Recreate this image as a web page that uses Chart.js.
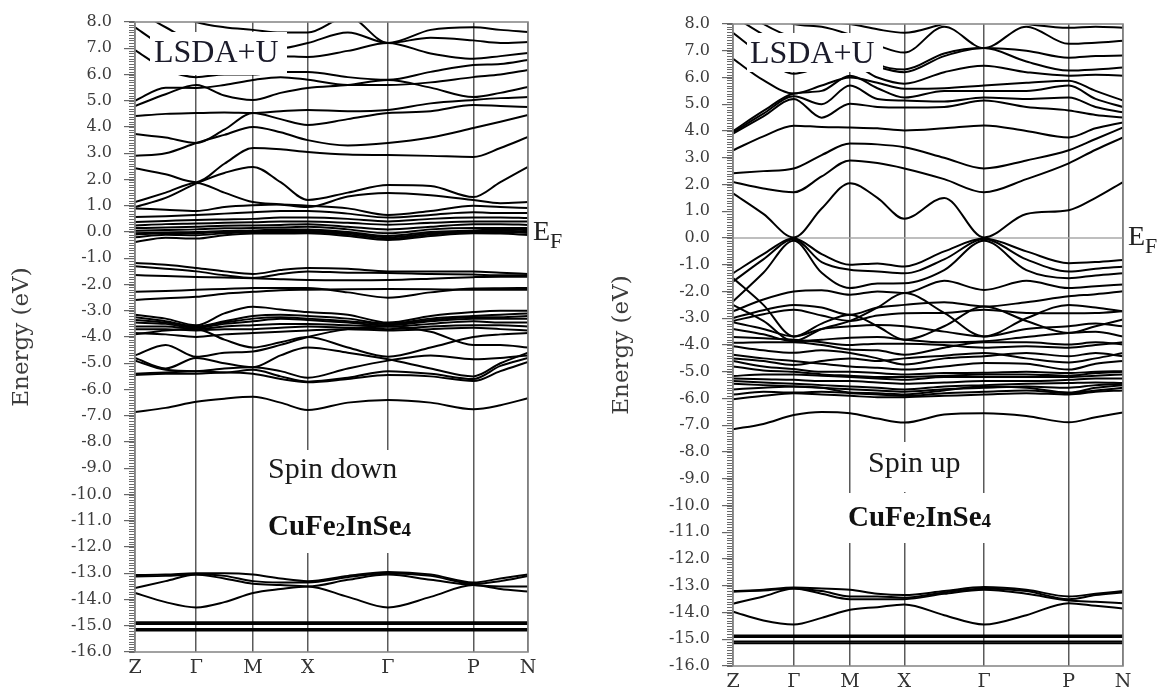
<!DOCTYPE html>
<html>
<head>
<meta charset="utf-8">
<script src="https://cdn.jsdelivr.net/npm/chart.js@4.4.1/dist/chart.umd.min.js"></script>
<style>
  html, body { margin: 0; padding: 0; background: #fff; width: 1157px; height: 689px; overflow: hidden; }
  canvas { position: absolute; top: 0; }
  #down { left: 0; }
  #up { left: 578px; }
</style>
</head>
<body>
<canvas id="down" width="578" height="689"></canvas>
<canvas id="up" width="579" height="689"></canvas>
<script>
// High-symmetry path Z-Γ-M-X-Γ-P-N and the k positions of the sampled energies
const kLabels = ['Z', 'Γ', 'M', 'X', 'Γ', 'P', 'N'];
const kPos = [0, 61, 117.5, 172, 252, 337, 391.5];
const kGrid = [0, 30.5, 61, 89, 117.5, 145, 172, 212, 252, 294.5, 337, 364, 391.5];
const energyTicks = [8, 7, 6, 5, 4, 3, 2, 1, 0, -1, -2, -3, -4, -5, -6, -7, -8, -9, -10, -11, -12, -13, -14, -15, -16];
const fermiLevel = 0;

// ---------- spin down (eV at each kGrid point) ----------
const downDeep = [
  [-14.87, -14.87, -14.87, -14.87, -14.87, -14.87, -14.87, -14.87, -14.87, -14.87, -14.87, -14.87, -14.87],
  [-14.93, -14.93, -14.93, -14.93, -14.93, -14.93, -14.93, -14.93, -14.93, -14.93, -14.93, -14.93, -14.93],
  [-15.12, -15.12, -15.12, -15.12, -15.12, -15.12, -15.12, -15.12, -15.12, -15.12, -15.12, -15.12, -15.12],
  [-15.18, -15.18, -15.18, -15.18, -15.18, -15.18, -15.18, -15.18, -15.18, -15.18, -15.18, -15.18, -15.18]
];
const downSemicore = [
  [-13.07, -13.05, -13.0, -13.0, -13.05, -13.2, -13.3, -13.1, -12.95, -13.05, -13.35, -13.2, -13.05],
  [-13.12, -13.1, -13.05, -13.1, -13.3, -13.35, -13.35, -13.15, -13.0, -13.1, -13.4, -13.3, -13.1],
  [-13.56, -13.3, -13.05, -13.2, -13.4, -13.45, -13.5, -13.25, -13.05, -13.25, -13.45, -13.5, -13.5],
  [-13.75, -14.1, -14.3, -14.1, -13.75, -13.6, -13.5, -13.9, -14.3, -13.9, -13.45, -13.6, -13.7]
];
const downValence = [
  [-6.86, -6.7, -6.47, -6.35, -6.28, -6.5, -6.78, -6.5, -6.4, -6.5, -6.75, -6.6, -6.33],
  [-5.45, -5.4, -5.4, -5.35, -5.4, -5.6, -5.72, -5.6, -5.45, -5.5, -5.68, -5.3, -4.95],
  [-5.4, -5.35, -5.3, -5.35, -5.25, -5.5, -5.7, -5.55, -5.3, -5.4, -5.6, -5.1, -4.8],
  [-4.9, -5.25, -5.3, -5.2, -5.15, -5.3, -5.55, -5.2, -4.9, -4.7, -4.85, -4.8, -4.7],
  [-4.8, -5.2, -4.8, -5.0, -5.15, -4.7, -4.4, -4.6, -4.85, -5.2, -5.5, -5.0, -4.6],
  [-4.7, -4.3, -4.75, -4.6, -4.55, -4.3, -4.0, -3.7, -3.6, -3.8, -4.3, -4.3, -4.4],
  [-3.9, -3.75, -3.7, -4.1, -4.4, -4.2, -4.0, -4.4, -4.75, -4.4, -4.0, -3.9, -3.85],
  [-3.85, -3.9, -4.0, -3.9, -3.85, -3.8, -3.75, -3.7, -3.75, -3.7, -3.65, -3.7, -3.75],
  [-3.7, -3.7, -3.75, -3.7, -3.7, -3.65, -3.6, -3.65, -3.7, -3.6, -3.55, -3.55, -3.6],
  [-3.6, -3.6, -3.7, -3.6, -3.55, -3.5, -3.5, -3.55, -3.6, -3.5, -3.4, -3.45, -3.45],
  [-3.45, -3.5, -3.65, -3.5, -3.4, -3.3, -3.35, -3.45, -3.55, -3.4, -3.3, -3.3, -3.3],
  [-3.35, -3.45, -3.6, -3.45, -3.3, -3.25, -3.3, -3.4, -3.5, -3.35, -3.25, -3.25, -3.2],
  [-3.25, -3.4, -3.6, -3.4, -3.2, -3.15, -3.2, -3.3, -3.5, -3.3, -3.2, -3.15, -3.1],
  [-3.15, -3.3, -3.55, -3.1, -2.85, -2.95, -3.05, -3.15, -3.45, -3.2, -3.05, -3.0, -3.0],
  [-2.59, -2.52, -2.47, -2.35, -2.28, -2.22, -2.2, -2.18, -2.17, -2.18, -2.2, -2.2, -2.2],
  [-2.28, -2.25, -2.2, -2.17, -2.13, -2.13, -2.13, -2.3, -2.5, -2.3, -2.15, -2.14, -2.13],
  [-1.64, -1.68, -1.71, -1.73, -1.76, -1.8, -1.83, -1.84, -1.83, -1.78, -1.72, -1.7, -1.7],
  [-1.3, -1.4, -1.5, -1.65, -1.75, -1.6, -1.5, -1.55, -1.56, -1.6, -1.62, -1.65, -1.65],
  [-1.18, -1.25, -1.37, -1.5, -1.6, -1.45, -1.37, -1.4, -1.5, -1.5, -1.5, -1.55, -1.6]
];
const downFermi = [
  [-0.38, -0.22, -0.25, -0.12, -0.06, -0.06, -0.05, -0.15, -0.3, -0.15, -0.05, -0.06, -0.11],
  [-0.2, -0.1, -0.12, -0.05, 0.0, 0.0, 0.0, -0.1, -0.25, -0.1, 0.0, 0.0, -0.04],
  [-0.1, -0.05, -0.05, 0.0, 0.02, 0.05, 0.05, -0.05, -0.2, -0.05, 0.02, 0.05, 0.02],
  [-0.05, -0.02, 0.0, 0.04, 0.06, 0.1, 0.1, 0.0, -0.15, 0.0, 0.06, 0.1, 0.08],
  [0.05, 0.08, 0.1, 0.14, 0.15, 0.17, 0.2, 0.1, -0.05, 0.1, 0.15, 0.15, 0.15],
  [0.15, 0.17, 0.2, 0.24, 0.25, 0.27, 0.3, 0.2, 0.1, 0.2, 0.3, 0.3, 0.27],
  [0.25, 0.3, 0.32, 0.35, 0.37, 0.4, 0.4, 0.35, 0.28, 0.35, 0.4, 0.4, 0.4],
  [0.38, 0.42, 0.46, 0.48, 0.5, 0.55, 0.55, 0.5, 0.4, 0.5, 0.55, 0.55, 0.53],
  [0.57, 0.6, 0.65, 0.7, 0.75, 0.8, 0.8, 0.7, 0.55, 0.65, 0.75, 0.72, 0.72],
  [0.9, 0.85, 0.8, 0.95, 1.02, 1.05, 1.0, 0.9, 0.65, 0.8, 1.0, 0.95, 0.91]
];
const downConduction = [
  [0.95, 1.3, 1.85, 2.25, 2.48, 1.9, 1.22, 1.5, 1.79, 1.75, 1.33, 1.9, 2.48],
  [1.14, 1.5, 1.87, 1.5, 1.14, 1.05, 0.95, 1.35, 1.49, 1.4, 1.22, 1.1, 1.14],
  [2.43, 2.2, 1.9, 2.6, 3.2, 3.15, 3.05, 2.95, 2.93, 2.9, 2.86, 3.2, 3.62],
  [2.9, 3.0, 3.39, 3.7, 4.0, 3.8, 3.5, 3.3, 3.39, 3.6, 3.96, 4.2, 4.46],
  [3.73, 3.6, 3.39, 3.9, 4.53, 4.3, 4.08, 4.3, 4.53, 4.6, 4.84, 4.8, 4.76],
  [4.42, 4.5, 4.53, 4.55, 4.53, 4.6, 4.65, 4.6, 4.65, 4.9, 5.03, 5.1, 5.14],
  [4.8, 5.25, 5.6, 5.2, 5.03, 5.3, 5.49, 5.6, 5.79, 5.5, 5.14, 5.3, 5.52],
  [5.0, 5.5, 5.49, 5.6, 5.79, 5.9, 5.8, 5.6, 5.6, 5.7, 5.9, 6.0, 6.17],
  [6.93, 6.2, 5.9, 6.0, 6.0, 6.1, 6.1, 5.9, 5.8, 6.1, 6.36, 6.4, 6.55],
  [7.8, 7.0, 6.3, 6.5, 6.6, 6.7, 6.67, 6.9, 7.2, 6.8, 6.6, 6.7, 6.82],
  [8.5, 7.8, 7.3, 7.4, 7.2, 7.0, 7.2, 7.6, 7.2, 7.4, 7.3, 7.2, 7.24],
  [9.0, 8.5, 8.0, 7.8, 7.7, 7.6, 7.6, 8.2, 7.2, 7.7, 7.8, 7.7, 7.62]
];

// ---------- spin up (eV at each kGrid point) ----------
const upDeep = [
  [-14.86, -14.86, -14.86, -14.86, -14.86, -14.86, -14.86, -14.86, -14.86, -14.86, -14.86, -14.86, -14.86],
  [-14.92, -14.92, -14.92, -14.92, -14.92, -14.92, -14.92, -14.92, -14.92, -14.92, -14.92, -14.92, -14.92],
  [-15.08, -15.08, -15.08, -15.08, -15.08, -15.08, -15.08, -15.08, -15.08, -15.08, -15.08, -15.08, -15.08],
  [-15.15, -15.15, -15.15, -15.15, -15.15, -15.15, -15.15, -15.15, -15.15, -15.15, -15.15, -15.15, -15.15]
];
const upSemicore = [
  [-13.2, -13.15, -13.07, -13.1, -13.15, -13.3, -13.35, -13.2, -13.05, -13.15, -13.4, -13.3, -13.2],
  [-13.22, -13.18, -13.1, -13.2, -13.4, -13.4, -13.45, -13.25, -13.1, -13.2, -13.5, -13.35, -13.25],
  [-13.67, -13.4, -13.1, -13.3, -13.5, -13.5, -13.5, -13.3, -13.15, -13.3, -13.55, -13.6, -13.65],
  [-13.97, -14.3, -14.45, -14.2, -13.9, -13.8, -13.7, -14.1, -14.45, -14.1, -13.65, -13.75, -13.85]
];
const upValence = [
  [-7.15, -6.95, -6.62, -6.5, -6.55, -6.75, -6.9, -6.6, -6.55, -6.65, -6.89, -6.7, -6.52],
  [-6.03, -5.9, -5.8, -5.85, -5.9, -5.95, -5.95, -5.9, -5.85, -5.8, -5.85, -5.75, -5.7],
  [-5.85, -5.75, -5.78, -5.75, -5.8, -5.85, -5.9, -5.8, -5.75, -5.7, -5.8, -5.7, -5.6],
  [-5.66, -5.6, -5.55, -5.6, -5.78, -5.8, -5.85, -5.7, -5.55, -5.6, -5.78, -5.6, -5.5],
  [-5.45, -5.5, -5.55, -5.6, -5.65, -5.7, -5.75, -5.65, -5.6, -5.55, -5.6, -5.5, -5.45],
  [-5.35, -5.4, -5.45, -5.5, -5.55, -5.6, -5.66, -5.55, -5.5, -5.45, -5.42, -5.4, -5.42],
  [-5.25, -5.28, -5.3, -5.35, -5.35, -5.4, -5.45, -5.4, -5.35, -5.35, -5.3, -5.25, -5.25],
  [-5.16, -5.1, -5.1, -5.15, -5.2, -5.25, -5.3, -5.2, -5.2, -5.2, -5.2, -5.15, -5.1],
  [-4.8, -4.95, -5.0, -5.1, -5.15, -5.2, -5.2, -5.15, -5.1, -5.1, -5.15, -5.05, -5.0],
  [-4.6, -4.8, -4.9, -5.0, -5.0, -5.05, -5.1, -5.05, -5.04, -5.0, -5.05, -5.0, -4.98],
  [-4.5, -4.6, -4.75, -4.6, -4.5, -4.6, -4.5, -4.4, -4.3, -4.5, -4.65, -4.5, -4.3],
  [-4.36, -4.5, -4.6, -4.7, -4.8, -4.85, -4.92, -4.8, -4.67, -4.7, -4.92, -4.7, -4.6],
  [-4.05, -4.2, -4.29, -4.2, -4.3, -4.5, -4.73, -4.5, -4.42, -4.3, -4.42, -4.3, -4.42],
  [-3.92, -3.9, -3.9, -4.0, -4.17, -4.2, -4.36, -4.1, -3.9, -3.9, -3.98, -3.9, -3.98],
  [-3.7, -3.75, -3.8, -3.9, -4.0, -3.95, -3.95, -4.0, -4.1, -4.05, -4.1, -4.0, -3.9],
  [-3.4, -3.6, -3.86, -3.8, -3.73, -3.7, -3.8, -3.9, -3.86, -3.7, -3.55, -3.5, -3.68],
  [-3.15, -3.4, -3.68, -3.4, -3.3, -3.25, -3.3, -3.5, -3.68, -3.4, -3.3, -3.2, -3.3],
  [-2.5, -3.1, -3.86, -3.4, -3.1, -2.6, -2.06, -2.8, -3.68, -3.0, -2.5, -2.6, -2.74],
  [-1.5, -2.5, -3.68, -3.2, -2.87, -3.3, -3.8, -3.3, -2.56, -3.1, -3.55, -3.3, -3.05],
  [-3.1, -2.85, -2.68, -2.9, -3.1, -2.9, -2.81, -2.8, -2.68, -2.8, -2.81, -2.8, -2.74],
  [-2.99, -2.7, -2.5, -2.6, -2.87, -2.6, -2.5, -2.4, -2.56, -2.4, -2.18, -2.1, -1.99],
  [-2.74, -2.3, -2.0, -1.95, -2.12, -2.0, -2.06, -1.6, -1.94, -1.6, -1.87, -1.8, -1.74],
  [-2.37, -1.3, -0.1, -1.3, -1.87, -1.7, -1.69, -1.2, -0.1, -1.2, -1.5, -1.4, -1.32],
  [-1.63, -0.8, -0.05, -0.9, -1.19, -1.25, -1.32, -0.8, -0.05, -0.8, -1.25, -1.15, -1.07],
  [-1.32, -0.6, -0.02, -0.6, -1.0, -0.95, -1.07, -0.5, -0.02, -0.5, -0.94, -0.9, -0.82]
];
const upConduction = [
  [1.67, 0.9, 0.02, 1.1, 2.05, 1.5, 0.72, 1.5, 0.02, 0.9, 1.04, 1.5, 2.09],
  [2.09, 1.85, 1.71, 2.3, 2.9, 2.8, 2.6, 2.2, 1.71, 2.2, 2.79, 3.3, 3.76],
  [2.42, 2.5, 2.6, 3.1, 3.53, 3.5, 3.39, 3.0, 2.6, 2.9, 3.28, 3.7, 4.13],
  [3.28, 3.8, 4.2, 4.15, 4.13, 4.1, 4.02, 4.1, 4.21, 4.0, 3.76, 4.1, 4.32],
  [3.9, 4.55, 5.2, 4.5, 5.02, 4.9, 4.88, 4.9, 5.14, 4.9, 4.77, 4.6, 4.5],
  [3.95, 4.65, 5.3, 5.0, 5.7, 5.2, 5.14, 5.1, 5.25, 5.2, 5.25, 4.9, 4.7],
  [4.0, 4.75, 5.4, 5.5, 6.07, 5.6, 5.25, 5.5, 5.5, 5.5, 5.7, 5.2, 4.9],
  [6.7, 5.9, 5.4, 5.7, 6.0, 5.8, 5.58, 5.6, 5.7, 5.8, 5.88, 5.5, 5.14],
  [7.67, 6.8, 6.14, 6.4, 6.5, 6.0, 5.77, 6.2, 6.44, 6.2, 6.07, 6.1, 6.07],
  [8.3, 7.6, 7.0, 6.8, 6.8, 6.4, 6.2, 6.8, 7.1, 6.6, 6.26, 6.3, 6.37],
  [8.8, 8.0, 7.5, 7.4, 7.3, 6.5, 6.3, 6.9, 7.1, 7.0, 6.74, 6.8, 6.82],
  [9.0, 8.6, 8.0, 7.9, 7.6, 7.2, 6.93, 7.9, 7.1, 7.9, 7.26, 7.3, 7.37],
  [9.0, 9.0, 8.3, 8.1, 8.0, 7.8, 7.67, 8.0, 8.2, 8.0, 7.86, 7.9, 7.86]
];

// ---------- drawing ----------
const serif = '"Liberation Serif", "Times New Roman", serif';
const plotFont = '"DejaVu Serif", serif';

function bandDatasets(groups) {
  const out = [];
  groups.forEach(group => group.forEach(band => {
    out.push({
      data: band.map((e, i) => ({ x: kGrid[i], y: e })),
      borderColor: '#000',
      borderWidth: 2,
      pointRadius: 0,
      cubicInterpolationMode: 'monotone',
      fill: false,
      order: 0
    });
  }));
  out.push({
    data: [{ x: kPos[0], y: fermiLevel }, { x: kPos[kPos.length - 1], y: fermiLevel }],
    borderColor: '#a8a8a8',
    borderWidth: 1.3,
    pointRadius: 0,
    fill: false,
    order: 5
  });
  return out;
}

// Draws the outlined frame, the minor tick comb, the text boxes and E_F label
const panelDecor = {
  id: 'panelDecor',
  afterDraw(chart, args, opts) {
    const { ctx, chartArea: a } = chart;
    const y = chart.scales.y;
    ctx.save();
    // minor ticks every 0.1 eV
    ctx.strokeStyle = '#6a6a6a';
    ctx.lineWidth = 1;
    for (let i = 0; i <= 240; i++) {
      const py = Math.round(y.getPixelForValue(-16 + i / 10)) + 0.5;
      ctx.beginPath();
      ctx.moveTo(a.left - 6, py);
      ctx.lineTo(a.left, py);
      ctx.stroke();
    }
    // white label boxes
    ctx.fillStyle = '#fff';
    opts.boxes.forEach(b => ctx.fillRect(b.x, b.y, b.w, b.h));
    // frame
    ctx.strokeStyle = '#8a8a8a';
    ctx.lineWidth = 1.6;
    ctx.strokeRect(a.left, a.top, a.right - a.left, a.bottom - a.top);
    // texts (runs of segments, some smaller/lower)
    ctx.textBaseline = 'alphabetic';
    ctx.textAlign = 'left';
    opts.texts.forEach(t => {
      let x = t.x;
      t.runs.forEach(r => {
        ctx.font = r.font;
        ctx.fillStyle = r.color || '#111';
        ctx.fillText(r.text, x, t.y + (r.dy || 0));
        x += ctx.measureText(r.text).width;
      });
    });
    ctx.restore();
  }
};

function makePanel(id, groups, geo, texts, boxes) {
  return new Chart(document.getElementById(id), {
    type: 'line',
    data: { datasets: bandDatasets(groups) },
    plugins: [panelDecor],
    options: {
      responsive: false,
      animation: false,
      events: [],
      layout: { padding: { top: geo.top, right: geo.right, bottom: 0, left: 0 } },
      plugins: {
        legend: { display: false },
        tooltip: { enabled: false },
        panelDecor: { texts, boxes }
      },
      scales: {
        x: {
          type: 'linear',
          min: kPos[0],
          max: kPos[kPos.length - 1],
          afterBuildTicks: s => { s.ticks = kPos.map(v => ({ value: v })); },
          afterFit: s => { s.height = geo.xHeight; s.paddingLeft = 0; s.paddingRight = 0; },
          ticks: {
            autoSkip: false,
            maxRotation: 0,
            padding: geo.xPad,
            color: '#333',
            font: { family: plotFont, size: 19 },
            callback: (v, i) => kLabels[i]
          },
          grid: { color: '#5a5a5a', lineWidth: 1.5, drawTicks: false },
          border: { display: false }
        },
        y: {
          type: 'linear',
          min: -16,
          max: 8,
          afterBuildTicks: s => { s.ticks = energyTicks.map(v => ({ value: v })); },
          afterFit: s => { s.width = geo.yWidth; s.paddingTop = 0; s.paddingBottom = 0; },
          ticks: {
            padding: 12,
            color: '#3c3c3c',
            font: { family: plotFont, size: 16 },
            callback: v => Number(v).toFixed(1)
          },
          grid: { drawOnChartArea: false, drawTicks: true, tickLength: 11, color: '#666', lineWidth: 1.2 },
          border: { display: false },
          title: {
            display: true,
            text: 'Energy (eV)',
            color: '#3c3c3c',
            font: { family: plotFont, size: 23 },
            padding: { top: geo.titlePad, bottom: 0 }
          }
        }
      }
    }
  });
}

const formula = (x, y) => ({
  x, y, runs: [
    { text: 'CuFe', font: 'bold 29px ' + serif },
    { text: '2', font: 'bold 19px ' + serif, dy: 1 },
    { text: 'InSe', font: 'bold 29px ' + serif },
    { text: '4', font: 'bold 19px ' + serif, dy: 1 }
  ]
});
const fermiLabel = (x, y) => ({
  x, y, runs: [
    { text: 'E', font: '28px ' + serif, color: '#222' },
    { text: 'F', font: '22px ' + serif, color: '#222', dy: 8 }
  ]
});

makePanel('down',
  [downDeep, downSemicore, downValence, downFermi, downConduction],
  { top: 22, right: 50, xHeight: 37, xPad: 5, yWidth: 135, titlePad: 8 },
  [
    { x: 154, y: 62, runs: [{ text: 'LSDA+U', font: '32px ' + serif, color: '#1b1b2a' }] },
    { x: 268, y: 478, runs: [{ text: 'Spin down', font: '30px ' + serif, color: '#1b1b1b' }] },
    formula(268, 535),
    fermiLabel(533, 240)
  ],
  [
    { x: 150, y: 32, w: 137, h: 43 },
    { x: 262, y: 450, w: 166, h: 103 }
  ]
);

makePanel('up',
  [upDeep, upSemicore, upValence, upConduction],
  { top: 24, right: 34, xHeight: 23, xPad: 5, yWidth: 155, titlePad: 30 },
  [
    { x: 172, y: 63, runs: [{ text: 'LSDA+U', font: '32px ' + serif, color: '#1b1b2a' }] },
    { x: 290, y: 472, runs: [{ text: 'Spin up', font: '30px ' + serif, color: '#1b1b1b' }] },
    formula(270, 526),
    fermiLabel(550, 245)
  ],
  [
    { x: 169, y: 33, w: 136, h: 39 },
    { x: 282, y: 442, w: 108, h: 50 },
    { x: 262, y: 493, w: 160, h: 50 }
  ]
);
</script>
</body>
</html>
